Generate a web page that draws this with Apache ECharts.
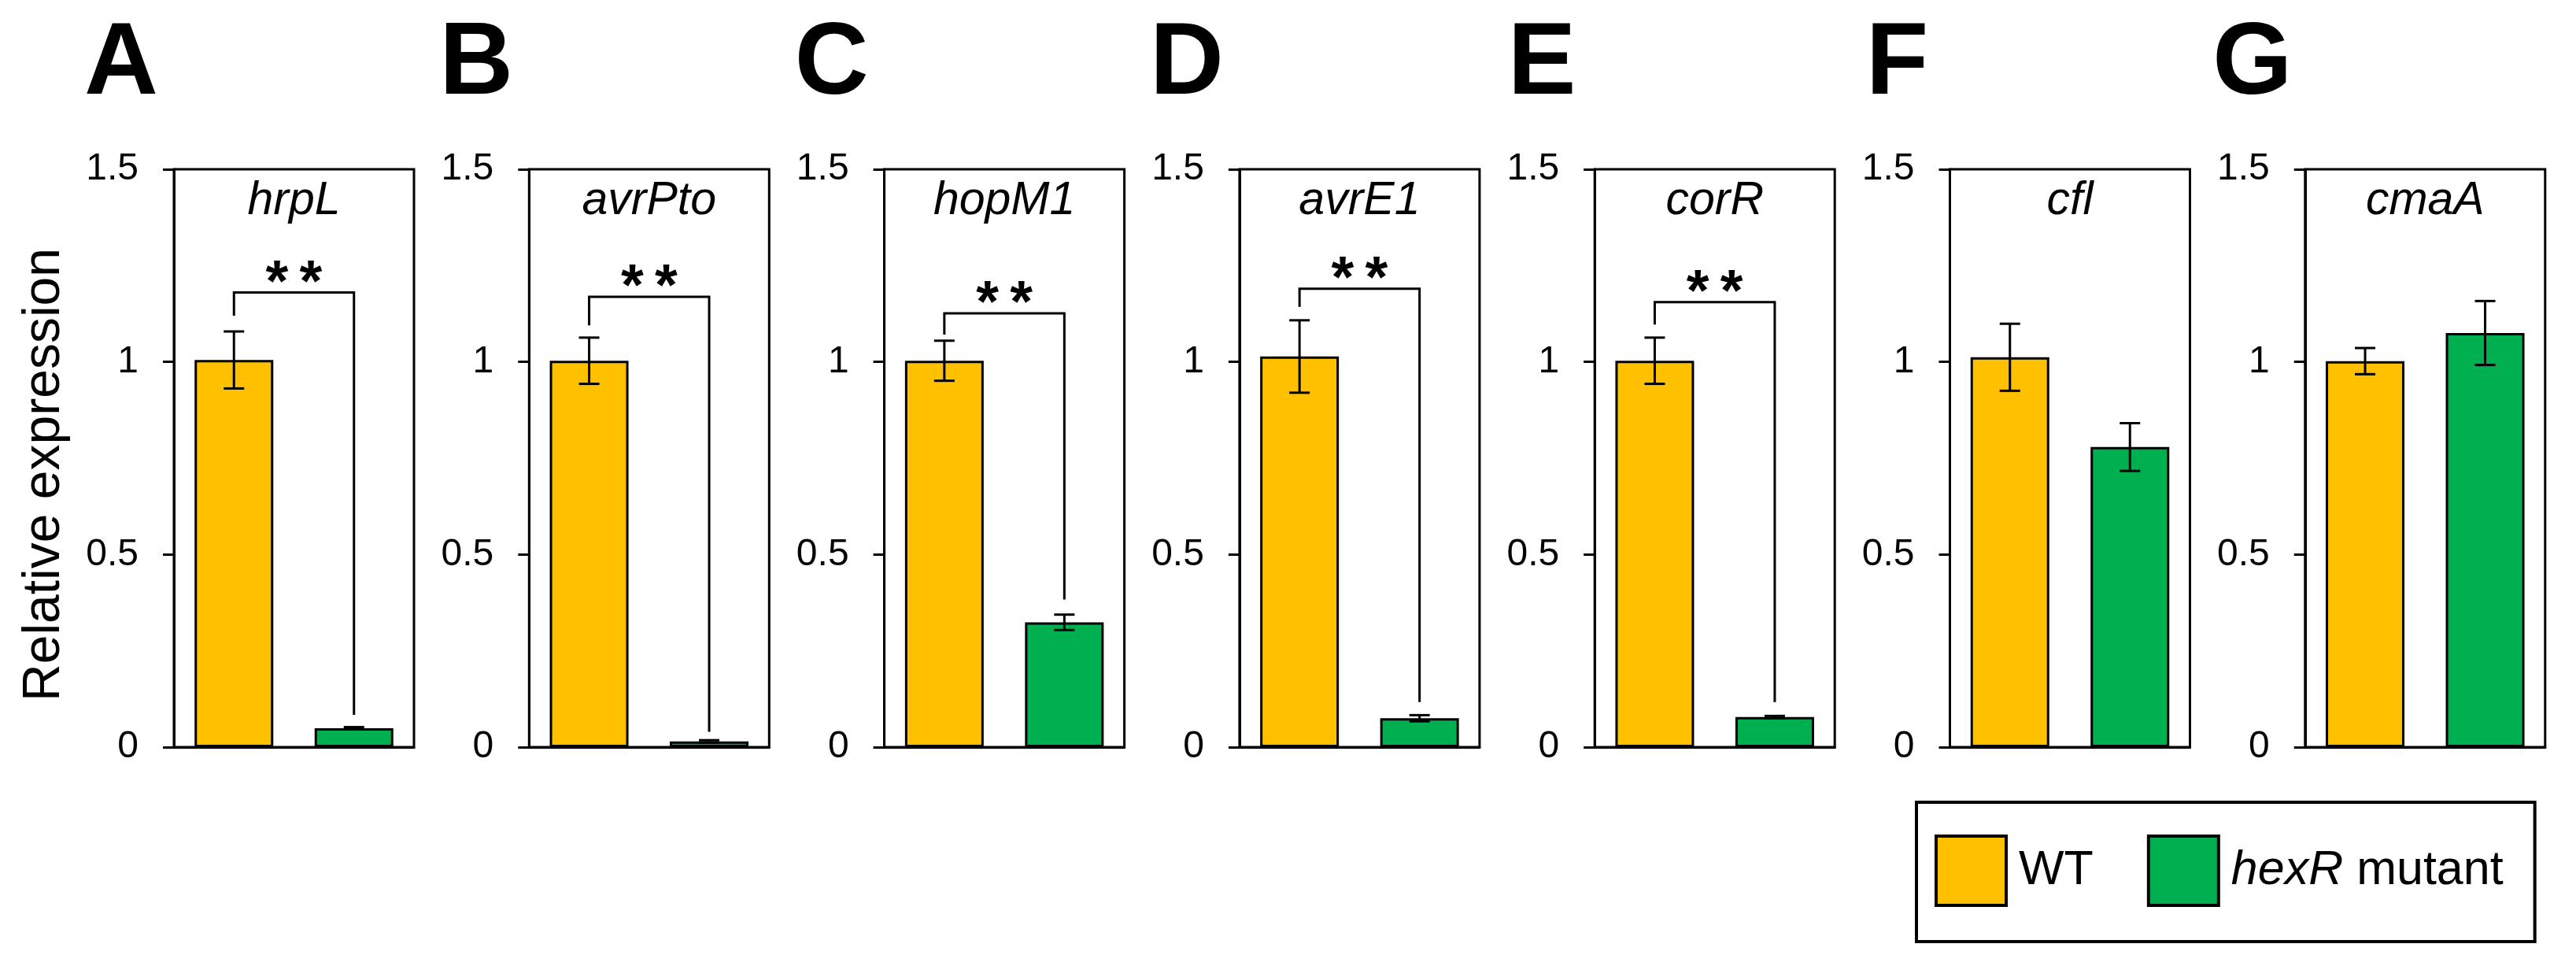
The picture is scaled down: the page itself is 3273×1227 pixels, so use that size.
<!DOCTYPE html>
<html>
<head>
<meta charset="utf-8">
<script src="https://cdn.jsdelivr.net/npm/echarts@6/dist/echarts.min.js"></script>
<style>
  html, body { margin: 0; padding: 0; background: #fff; }
  #chart { width: 3273px; height: 1227px; }
</style>
</head>
<body>
<div id="chart"></div>
<script>
"use strict";
var fontFamily = "'Liberation Sans', Arial, sans-serif";

// data
var panelLetters = ['A', 'B', 'C', 'D', 'E', 'F', 'G'];
var genes = ['hrpL', 'avrPto', 'hopM1', 'avrE1', 'corR', 'cfl', 'cmaA'];
var groups = ['WT', 'hexR mutant'];
var wtMean = [1.005, 1.003, 1.003, 1.014, 1.003, 1.012, 1.002];
var wtErr = [0.074, 0.06, 0.052, 0.094, 0.06, 0.087, 0.034];
var mutMean = [0.049, 0.015, 0.324, 0.075, 0.078, 0.779, 1.075];
var mutErr = [0.003, 0.003, 0.02, 0.008, 0.003, 0.062, 0.083];
// significance brackets (null = none)
var sigLabel = ['**', '**', '**', '**', '**', null, null];
var sigTop = [1.18, 1.169, 1.126, 1.19, 1.155, null, null];
var sigLeftEnd = [1.12, 1.095, 1.071, 1.143, 1.097, null, null];
var sigRightEnd = [0.084, 0.04, 0.383, 0.117, 0.117, null, null];
var yMin = 0, yMax = 1.5, yStep = 0.5;

var wtColor = '#FFC000';
var mutColor = '#00B050';

/* layout */
var plotTop = 215;
var plotHeight = 734;
var plotWidth = 305;
function panelLeft(i) {
	return 221 + i * 451.3;
}

function renderErrorBar(params, api) {
	var x = api.value(0);
	var m = api.value(1);
	var e = api.value(2);
	var hi = api.coord([x, m + e]);
	var lo = api.coord([x, m - e]);
	var cap = 13;
	var style = { stroke: '#000', lineWidth: 3 };
	return {
		type : 'group',
		children : [
			{ type : 'line', shape : { x1 : hi[0], y1 : hi[1], x2 : lo[0], y2 : lo[1] }, style : style },
			{ type : 'line', shape : { x1 : hi[0] - cap, y1 : hi[1], x2 : hi[0] + cap, y2 : hi[1] }, style : style },
			{ type : 'line', shape : { x1 : lo[0] - cap, y1 : lo[1], x2 : lo[0] + cap, y2 : lo[1] }, style : style }
		]
	};
}

function makeBracket(label) {
	return function(params, api) {
		var top = api.value(1);
		var leftEnd = api.value(2);
		var rightEnd = api.value(3);
		var a = api.coord([0, leftEnd]);
		var b = api.coord([0, top]);
		var c = api.coord([1, top]);
		var d = api.coord([1, rightEnd]);
		var mid = (b[0] + c[0]) / 2;
		var children = [ {
			type : 'polyline',
			shape : { points : [ a, b, c, d ] },
			style : { stroke : '#000', lineWidth : 3, fill : null }
		} ];
		// one text per star, spaced like the original
		var stars = label.split('');
		var step = 43;
		stars.forEach(function(s, k) {
			children.push({
				type : 'text',
				style : {
					text : s,
					x : mid + (k - (stars.length - 1) / 2) * step,
					y : b[1] - 10,
					align : 'center',
					verticalAlign : 'middle',
					fontSize : 74,
					fontWeight : 'bold',
					fontFamily : fontFamily,
					fill : '#000'
				}
			});
		});
		return { type : 'group', children : children };
	};
}

var grids = [], xAxes = [], yAxes = [], series = [], graphics = [];

genes.forEach(function(gene, i) {
	var L = panelLeft(i);
	grids.push({
		left : L,
		top : plotTop,
		width : plotWidth,
		height : plotHeight,
		show : true,
		borderColor : '#000',
		borderWidth : 3
	});
	xAxes.push({
		gridIndex : i,
		type : 'category',
		data : groups,
		axisLine : { lineStyle : { color : '#000', width : 3 } },
		axisTick : { show : false },
		axisLabel : { show : false }
	});
	yAxes.push({
		gridIndex : i,
		type : 'value',
		min : yMin,
		max : yMax,
		interval : yStep,
		splitLine : { show : false },
		axisLine : { show : true, lineStyle : { color : '#000', width : 3 } },
		axisTick : { show : true, length : 14, lineStyle : { color : '#000', width : 3 } },
		axisLabel : { margin : 45, fontSize : 48, color : '#000', fontFamily : fontFamily }
	});
	series.push({
		type : 'bar',
		name : groups[0],
		xAxisIndex : i,
		yAxisIndex : i,
		data : [ wtMean[i], '-' ],
		barWidth : 100,
		barGap : '-100%',
		itemStyle : { color : wtColor, borderColor : '#000', borderWidth : 3 }
	});
	series.push({
		type : 'bar',
		name : groups[1],
		xAxisIndex : i,
		yAxisIndex : i,
		data : [ '-', mutMean[i] ],
		barWidth : 100,
		barGap : '-100%',
		itemStyle : { color : mutColor, borderColor : '#000', borderWidth : 3 }
	});
	series.push({
		type : 'custom',
		name : 'error',
		xAxisIndex : i,
		yAxisIndex : i,
		renderItem : renderErrorBar,
		encode : { x : 0, y : 1 },
		data : [ [ 0, wtMean[i], wtErr[i] ], [ 1, mutMean[i], mutErr[i] ] ],
		z : 5
	});
	if (sigLabel[i]) {
		series.push({
			type : 'custom',
			name : 'sig',
			xAxisIndex : i,
			yAxisIndex : i,
			renderItem : makeBracket(sigLabel[i]),
			encode : { x : 0, y : 1 },
			data : [ [ 0, sigTop[i], sigLeftEnd[i], sigRightEnd[i] ] ],
			clip : false,
			z : 5
		});
	}
	// gene name inside the frame
	graphics.push({
		type : 'text',
		style : {
			text : gene,
			x : L + plotWidth / 2,
			y : 256,
			align : 'center',
			verticalAlign : 'middle',
			fontSize : 59,
			fontStyle : 'italic',
			fontFamily : fontFamily,
			fill : '#000'
		}
	});
	// panel letter
	graphics.push({
		type : 'text',
		style : {
			text : panelLetters[i],
			x : L - 67,
			y : 83,
			align : 'center',
			verticalAlign : 'middle',
			fontSize : 130,
			fontWeight : 'bold',
			fontFamily : fontFamily,
			fill : '#000'
		}
	});
});

graphics.push({
	type : 'text',
	x : 57,
	y : 603,
	rotation : Math.PI / 2,
	style : {
		text : 'Relative expression',
		x : 0,
		y : 0,
		align : 'center',
		verticalAlign : 'middle',
		fontSize : 66,
		fontFamily : fontFamily,
		fill : '#000'
	}
});

var chart = echarts.init(document.getElementById('chart'), null, { renderer : 'canvas' });
chart.setOption({
	animation : false,
	backgroundColor : '#fff',
	grid : grids,
	xAxis : xAxes,
	yAxis : yAxes,
	series : series,
	graphic : graphics,
	legend : {
		data : groups,
		left : 2435,
		top : 1019,
		orient : 'horizontal',
		icon : 'rect',
		itemWidth : 89,
		itemHeight : 88,
		itemGap : 68,
		padding : [ 41, 40, 44, 23 ],
		borderColor : '#000',
		borderWidth : 4,
		selectedMode : false,
		itemStyle : { borderColor : '#000', borderWidth : 4 },
		formatter : function(name) {
			return name === 'hexR mutant' ? '{i|hexR} mutant' : name;
		},
		textStyle : {
			fontSize : 61,
			fontFamily : fontFamily,
			color : '#000',
			padding : [ 0, 0, 0, 11 ],
			rich : {
				i : { fontSize : 61, fontStyle : 'italic', fontFamily : fontFamily, color : '#000' }
			}
		}
	}
});
</script>
</body>
</html>
